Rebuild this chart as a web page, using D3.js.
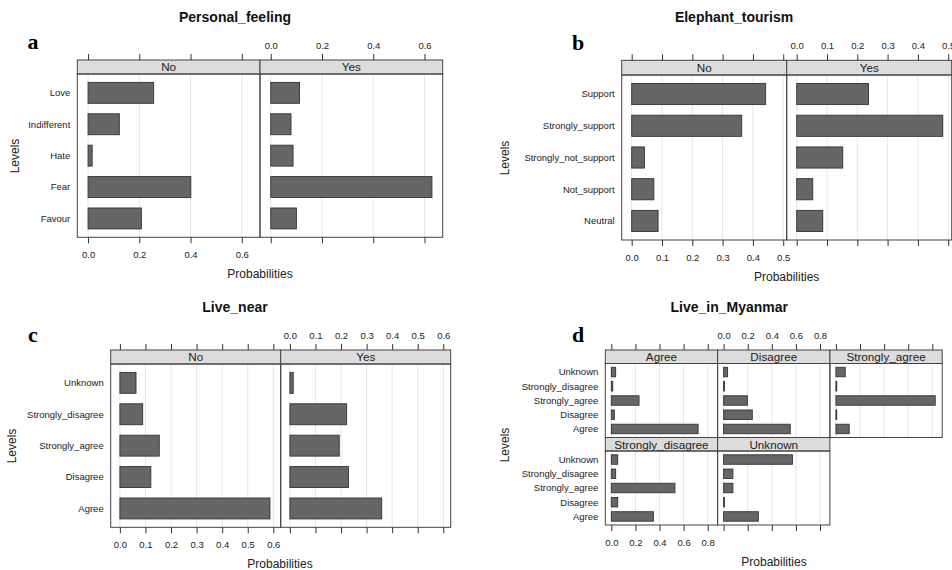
<!DOCTYPE html>
<html>
<head>
<meta charset="utf-8">
<script src="https://cdn.jsdelivr.net/npm/d3@7"></script>
<style>
  body { margin: 0; background: #fff; }
  svg { display: block; font-family: "Liberation Sans", Arial, sans-serif; }
</style>
</head>
<body>
<div class="chart-container"></div>
<script>
// Global Variables
const canvasWidth = 952;
const canvasHeight = 570;

// a - Personal_feeling
const feelLevels = ['Love', 'Indifferent', 'Hate', 'Fear', 'Favour']
const feelPanels = ['No', 'Yes']
const feelNo = [0.256, 0.122, 0.016, 0.401, 0.208]
const feelYes = [0.112, 0.079, 0.087, 0.629, 0.100]
const feelTicks = [0, 0.2, 0.4, 0.6]

// b - Elephant_tourism
const tourLevels = ['Support', 'Strongly_support', 'Strongly_not_support', 'Not_support', 'Neutral']
const tourPanels = ['No', 'Yes']
const tourNo = [0.442, 0.363, 0.042, 0.073, 0.087]
const tourYes = [0.237, 0.482, 0.152, 0.053, 0.086]
const tourTicks = [0, 0.1, 0.2, 0.3, 0.4, 0.5]

// c - Live_near
const nearLevels = ['Unknown', 'Strongly_disagree', 'Strongly_agree', 'Disagree', 'Agree']
const nearPanels = ['No', 'Yes']
const nearNo = [0.063, 0.089, 0.154, 0.121, 0.587]
const nearYes = [0.013, 0.222, 0.193, 0.229, 0.359]
const nearTicks = [0, 0.1, 0.2, 0.3, 0.4, 0.5, 0.6]

// d - Live_in_Myanmar
const myanLevels = ['Unknown', 'Strongly_disagree', 'Strongly_agree', 'Disagree', 'Agree']
const myanPanels = ['Agree', 'Disagree', 'Strongly_agree', 'Strongly_disagree', 'Unknown']
const myanAgree = [0.036, 0.012, 0.230, 0.025, 0.720]
const myanDisagree = [0.033, 0.005, 0.197, 0.238, 0.553]
const myanStronglyAgree = [0.077, 0.004, 0.824, 0.004, 0.110]
const myanStronglyDisagree = [0.053, 0.036, 0.528, 0.053, 0.349]
const myanUnknown = [0.571, 0.077, 0.077, 0.005, 0.288]
const myanTicks = [0, 0.2, 0.4, 0.6, 0.8]

const charts = [
    { title: 'Personal_feeling', letter: 'a', levels: feelLevels, panels: feelPanels, values: [feelNo, feelYes], ticks: feelTicks,
      left: 77.3, top: 60, colW: 182.7, stripH: 14, panelH: 163.3, ncol: 2, domain: [-0.042, 0.671],
      titleX: 235, titleY: 22, letterX: 33, letterY: 49, levelsX: 15, levelsY: 156, probX: 260 },
    { title: 'Elephant_tourism', letter: 'b', levels: tourLevels, panels: tourPanels, values: [tourNo, tourYes], ticks: tourTicks,
      left: 621.7, top: 60.3, colW: 165, stripH: 14.7, panelH: 165, ncol: 2, domain: [-0.033, 0.5115],
      titleX: 734, titleY: 22, letterX: 578, letterY: 50, levelsX: 505, levelsY: 158, probX: 786.7 },
    { title: 'Live_near', letter: 'c', levels: nearLevels, panels: nearPanels, values: [nearNo, nearYes], ticks: nearTicks,
      left: 110.7, top: 350, colW: 170, stripH: 14, panelH: 163.3, ncol: 2, domain: [-0.036, 0.629],
      titleX: 235, titleY: 312, letterX: 33, letterY: 342, levelsX: 12, levelsY: 446, probX: 280 },
    { title: 'Live_in_Myanmar', letter: 'd', levels: myanLevels, panels: myanPanels,
      values: [myanAgree, myanDisagree, myanStronglyAgree, myanStronglyDisagree, myanUnknown], ticks: myanTicks,
      left: 605.3, top: 350, colW: 112.3, stripH: 13.5, panelH: 74, ncol: 3, domain: [-0.05, 0.882],
      titleX: 729.3, titleY: 312, letterX: 578, letterY: 342, levelsX: 505, levelsY: 445, probX: 774 }
]

// Creating SVG
const svg = d3.select('.chart-container')
    .append('svg')
    .attr('width', canvasWidth)
    .attr('height', canvasHeight)

function styleAxis(g) {
    g.select('.domain').remove()
    g.selectAll('.tick line').attr('stroke', '#333')
    g.selectAll('.tick text').attr('font-size', 9.5).attr('fill', '#222')
        .attr('font-family', '"Liberation Sans", Arial, sans-serif')
}

function drawChart(c) {
    const g = svg.append('g')
    const nrow = Math.ceil(c.panels.length / c.ncol)
    const rowH = c.stripH + c.panelH
    const fmt = d3.format('.1f')

    c.panels.forEach((name, i) => {
        const col = i % c.ncol
        const row = Math.floor(i / c.ncol)
        const x0 = c.left + col * c.colW
        const y0 = c.top + row * rowH

        const xScale = d3.scaleLinear().domain(c.domain).range([x0, x0 + c.colW])
        const yScale = d3.scaleBand()
            .domain(c.levels)
            .range([y0 + c.stripH, y0 + rowH])
            .paddingInner(1 / 3)
            .paddingOuter(0.8 / 3)

        const p = g.append('g')

        // grid
        p.selectAll('line.grid')
            .data(c.ticks)
            .enter()
            .append('line')
            .attr('x1', d => xScale(d)).attr('x2', d => xScale(d))
            .attr('y1', y0 + c.stripH).attr('y2', y0 + rowH)
            .attr('stroke', '#e6e6e6')

        // bars
        p.selectAll('rect.bar')
            .data(c.levels.map((lv, k) => ({ lv, v: c.values[i][k] })))
            .enter()
            .append('rect')
            .attr('x', xScale(0))
            .attr('y', d => yScale(d.lv))
            .attr('width', d => Math.max(0.8, xScale(d.v) - xScale(0)))
            .attr('height', yScale.bandwidth())
            .attr('fill', '#666')
            .attr('stroke', '#333')
            .attr('stroke-width', 0.9)

        // strip
        p.append('rect')
            .attr('x', x0).attr('y', y0)
            .attr('width', c.colW).attr('height', c.stripH)
            .attr('fill', '#dcdcdc')
            .attr('stroke', '#444')
        p.append('text')
            .text(name)
            .attr('x', x0 + c.colW / 2)
            .attr('y', y0 + c.stripH / 2 + 4.3)
            .attr('text-anchor', 'middle')
            .attr('font-size', 11.7)
            .attr('fill', '#222')

        // panel border
        p.append('rect')
            .attr('x', x0).attr('y', y0 + c.stripH)
            .attr('width', c.colW).attr('height', c.panelH)
            .attr('fill', 'none')
            .attr('stroke', '#444')

        // level labels on first column
        if (col === 0) {
            p.selectAll('text.lv')
                .data(c.levels)
                .enter()
                .append('text')
                .text(d => d)
                .attr('x', c.left - 7)
                .attr('y', d => yScale(d) + yScale.bandwidth() / 2 + 3.4)
                .attr('text-anchor', 'end')
                .attr('font-size', 9.5)
                .attr('fill', '#222')
        }

        // top axis for first row
        if (row === 0) {
            const axTop = d3.axisTop(xScale).tickValues(c.ticks).tickSize(6).tickPadding(5)
                .tickFormat(col % 2 === 1 ? fmt : '')
            g.append('g')
                .attr('transform', `translate(0, ${c.top})`)
                .call(axTop)
                .call(styleAxis)
        }

        // bottom axis for panels in last row
        if (row === nrow - 1) {
            const axBottom = d3.axisBottom(xScale).tickValues(c.ticks).tickSize(6).tickPadding(8)
                .tickFormat(col % 2 === 0 ? fmt : '')
            g.append('g')
                .attr('transform', `translate(0, ${y0 + rowH})`)
                .call(axBottom)
                .call(styleAxis)
        }
    })

    const bottom = c.top + nrow * rowH

    // Titles
    g.append('text')
        .text(c.title)
        .attr('x', c.titleX).attr('y', c.titleY)
        .attr('text-anchor', 'middle')
        .attr('font-size', 14)
        .attr('font-weight', 'bold')
        .attr('fill', '#111')

    g.append('text')
        .text(c.letter)
        .attr('x', c.letterX).attr('y', c.letterY)
        .attr('text-anchor', 'middle')
        .attr('font-family', '"Liberation Serif", "Times New Roman", serif')
        .attr('font-size', 22)
        .attr('font-weight', 'bold')
        .attr('fill', '#000')

    g.append('text')
        .text('Levels')
        .attr('transform', `translate(${c.levelsX + 4}, ${c.levelsY}) rotate(-90)`)
        .attr('text-anchor', 'middle')
        .attr('font-size', 12)
        .attr('fill', '#222')

    g.append('text')
        .text('Probabilities')
        .attr('x', c.probX).attr('y', bottom + 41)
        .attr('text-anchor', 'middle')
        .attr('font-size', 12)
        .attr('fill', '#222')
}

charts.forEach(drawChart)
</script>
</body>
</html>
